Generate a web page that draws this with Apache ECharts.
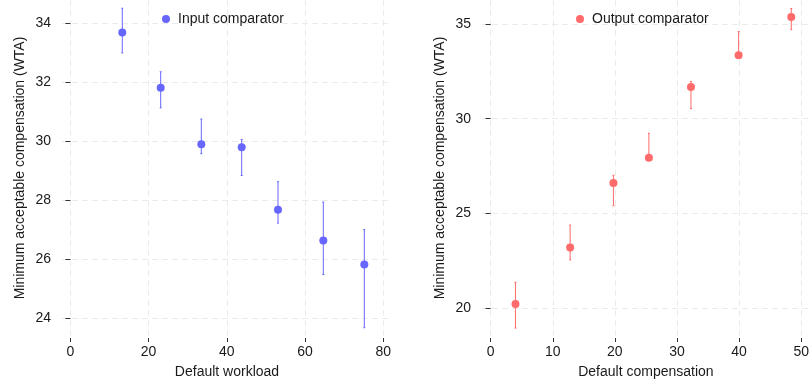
<!DOCTYPE html>
<html>
<head>
<meta charset="utf-8">
<script src="https://cdn.jsdelivr.net/npm/echarts@6/dist/echarts.min.js"></script>
<style>
html,body{margin:0;padding:0;background:#fff;}
#chart{width:812px;height:385px;}
</style>
</head>
<body>
<div id="chart"></div>
<script>
// Left panel: Input comparator
var inputX  = [13.27, 23.09, 33.48, 43.81, 53.09, 64.68, 75.17];
var inputY  = [33.67, 31.80, 29.89, 29.79, 27.67, 26.63, 25.82];
var inputLo = [32.98, 31.12, 29.57, 28.83, 27.22, 25.48, 23.68];
var inputHi = [34.49, 32.34, 30.74, 30.05, 28.62, 27.93, 27.00];
// Right panel: Output comparator
var outputX  = [4.0, 12.8, 19.77, 25.48, 32.25, 39.92, 48.4];
var outputY  = [20.21, 23.19, 26.60, 27.94, 31.67, 33.35, 35.37];
var outputLo = [18.94, 22.54, 25.40, 27.85, 30.53, 33.30, 34.70];
var outputHi = [21.36, 24.38, 27.01, 29.23, 31.97, 34.60, 35.82];
// Tick labels
var leftXTicks  = [0, 20, 40, 60, 80];
var leftYTicks  = [24, 26, 28, 30, 32, 34];
var rightXTicks = [0, 10, 20, 30, 40, 50];
var rightYTicks = [20, 25, 30, 35];

var FONT = "'Liberation Sans', Arial, Helvetica, sans-serif";
var BLUE = '#6767ff';
var RED = '#ff6a6a';

function pts(xs, ys) { return xs.map(function (x, i) { return [x, ys[i]]; }); }
function bars(xs, lo, hi) { return xs.map(function (x, i) { return [x, lo[i], hi[i]]; }); }

function errRender(color) {
  return function (params, api) {
    var x = api.value(0);
    var a = api.coord([x, api.value(1)]);
    var b = api.coord([x, api.value(2)]);
    var st = { stroke: color, lineWidth: 1 };
    return {
      type: 'group',
      children: [
        { type: 'line', shape: { x1: a[0], y1: a[1], x2: b[0], y2: b[1] }, style: st },
        { type: 'line', shape: { x1: a[0] - 1, y1: a[1], x2: a[0] + 1, y2: a[1] }, style: st },
        { type: 'line', shape: { x1: b[0] - 1, y1: b[1], x2: b[0] + 1, y2: b[1] }, style: st }
      ]
    };
  };
}

var gridLine = { show: true, lineStyle: { color: '#ebebeb', type: [6, 4], width: 1 } };

function xAxis(idx, min, max, ticks, name) {
  return {
    type: 'value', gridIndex: idx, min: min, max: max, offset: 2,
    name: name, nameLocation: 'middle', nameGap: 27,
    nameTextStyle: { fontFamily: FONT, fontSize: 14, color: '#1a1a1a' },
    axisLine: { show: false },
    axisTick: { show: true, length: 4, customValues: ticks, lineStyle: { color: '#333' } },
    axisLabel: { customValues: ticks, margin: 7, fontFamily: FONT, fontSize: 14, color: '#1a1a1a' },
    splitLine: gridLine
  };
}
function yAxis(idx, min, max, ticks) {
  return {
    type: 'value', gridIndex: idx, min: min, max: max,
    name: 'Minimum acceptable compensation (WTA)', nameLocation: 'middle', nameGap: 35,
    nameTextStyle: { fontFamily: FONT, fontSize: 14, color: '#1a1a1a' },
    axisLine: { show: false },
    axisTick: { show: true, length: 5, customValues: ticks, lineStyle: { color: '#333' } },
    axisLabel: { customValues: ticks, margin: 11, fontFamily: FONT, fontSize: 14, color: '#1a1a1a' },
    splitLine: gridLine
  };
}

var chart = echarts.init(document.getElementById('chart'), null, { renderer: 'canvas' });
chart.setOption({
  animation: false,
  backgroundColor: '#fff',
  grid: [
    { left: 62, right: 420, top: 0, bottom: 49 },
    { left: 482, right: 0, top: 0, bottom: 49 }
  ],
  legend: [
    { data: ['Input comparator'], left: 162, top: 12, padding: 0, icon: 'circle', itemWidth: 14, itemHeight: 8,
      textStyle: { fontFamily: FONT, fontSize: 14, color: '#1a1a1a' } },
    { data: ['Output comparator'], left: 576, top: 12, padding: 0, icon: 'circle', itemWidth: 14, itemHeight: 8,
      textStyle: { fontFamily: FONT, fontSize: 14, color: '#1a1a1a' } }
  ],
  xAxis: [
    xAxis(0, -2.15, 82.25, leftXTicks, 'Default workload'),
    xAxis(1, -1.39, 51.39, rightXTicks, 'Default compensation')
  ],
  yAxis: [
    yAxis(0, 23.40, 34.77, leftYTicks),
    yAxis(1, 18.52, 36.27, rightYTicks)
  ],
  series: [
    { type: 'custom', name: 'inErr', xAxisIndex: 0, yAxisIndex: 0, renderItem: errRender(BLUE),
      data: bars(inputX, inputLo, inputHi), z: 2, silent: true },
    { type: 'scatter', name: 'Input comparator', xAxisIndex: 0, yAxisIndex: 0, symbol: 'circle', symbolSize: 8,
      itemStyle: { color: BLUE, opacity: 1 }, data: pts(inputX, inputY), z: 3 },
    { type: 'custom', name: 'outErr', xAxisIndex: 1, yAxisIndex: 1, renderItem: errRender(RED),
      data: bars(outputX, outputLo, outputHi), z: 2, silent: true },
    { type: 'scatter', name: 'Output comparator', xAxisIndex: 1, yAxisIndex: 1, symbol: 'circle', symbolSize: 8,
      itemStyle: { color: RED, opacity: 1 }, data: pts(outputX, outputY), z: 3 }
  ]
});
</script>
</body>
</html>
